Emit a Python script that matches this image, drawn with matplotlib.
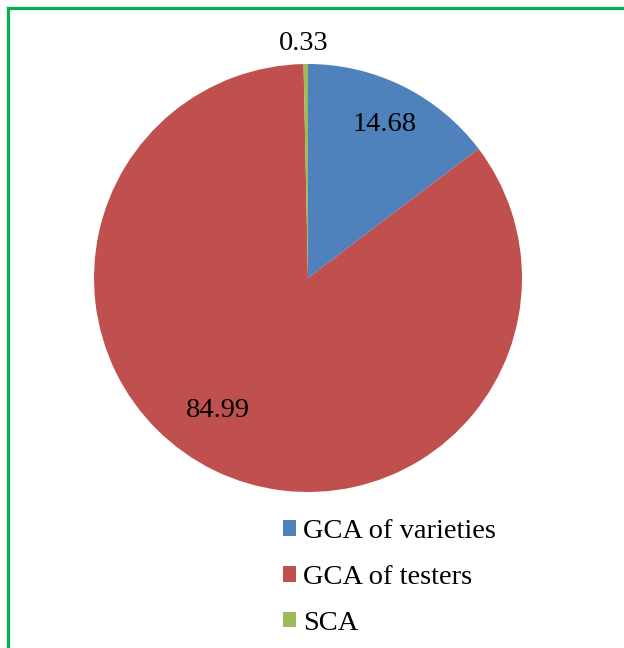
import matplotlib.pyplot as plt
from matplotlib.lines import Line2D

# data
categories = ["GCA of varieties", "GCA of testers", "SCA"]
values = [14.68, 84.99, 0.33]
colors = ["#4F81BD", "#C0504D", "#9BBB59"]

# label positions (pie data coords)
label_pos = [(0.36, 0.715), (-0.42, -0.617), (-0.02, 1.095)]

W, H = 624, 648
fig = plt.figure(figsize=(W / 100, H / 100), dpi=100)
plt.rcParams['font.family'] = ['Liberation Serif', 'DejaVu Serif']

cx, cy, r = 308, 278, 214
ax = fig.add_axes([(cx - r) / W, (H - cy - r) / H, 2 * r / W, 2 * r / H])
wedges, _ = ax.pie(values, colors=colors, startangle=90, counterclock=False,
                   radius=1, wedgeprops=dict(linewidth=0))
ax.set_xlim(-1, 1)
ax.set_ylim(-1, 1)
ax.set_aspect('equal')
ax.axis('off')

for v, (x, y) in zip(values, label_pos):
    ax.text(x, y, f"{v:.2f}", ha='center', va='center', fontsize=20.5, color='black',
            clip_on=False)

fig.legend(wedges, categories, loc='upper left', bbox_to_anchor=(269 / W, 1 - 505 / H),
           frameon=False, fontsize=20.5, handlelength=0.45, handleheight=0.45,
           handletextpad=0.25, labelspacing=0.73, borderpad=0)

# green frame (left and top only)
bx, by = 7.5 / W, 1 - 7.5 / H
fig.add_artist(Line2D([bx, bx], [0, by], transform=fig.transFigure, color='#00B050', lw=2.3))
fig.add_artist(Line2D([bx, 1], [by, by], transform=fig.transFigure, color='#00B050', lw=2.3))

fig.savefig("out.png", dpi=100)
